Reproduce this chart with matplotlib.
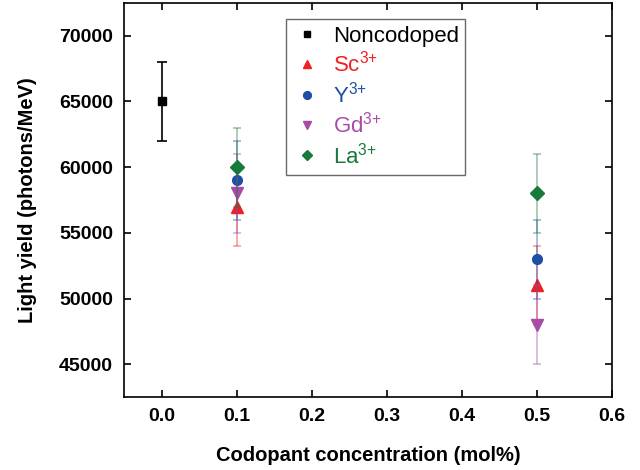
import matplotlib
matplotlib.use("Agg")
import matplotlib.pyplot as plt

plt.rcParams['font.family'] = ['Liberation Sans', 'DejaVu Sans']
plt.rcParams['mathtext.fontset'] = 'custom'
plt.rcParams['mathtext.rm'] = 'Liberation Sans'
plt.rcParams['mathtext.it'] = 'Liberation Sans'

# light yield vs codopant concentration
x_ref = [0.0]
y_ref = [65000]
err_ref = [3000]

conc = [0.1, 0.5]
sc = [57000, 51000]
y3 = [59000, 53000]
gd = [58000, 48000]
la = [60000, 58000]
err = [3000, 3000]

series = [
    ("Sc$^{3{+}}$", sc, "^", "#ee2020", 8),
    ("Y$^{3{+}}$", y3, "o", "#1f4ea6", 7),
    ("Gd$^{3{+}}$", gd, "v", "#a64ca6", 8),
    ("La$^{3{+}}$", la, "D", "#177a3a", 7),
]

fig = plt.figure(figsize=(6.4, 4.7), dpi=100)
ax = fig.add_axes([0.194, 0.155, 0.762, 0.839])

ax.errorbar(x_ref, y_ref, yerr=err_ref, fmt="none", ecolor="black",
            elinewidth=1.2, capsize=3.3, capthick=1.2)
ax.plot(x_ref, y_ref, "s", color="black", ms=6, label="Noncodoped")

for name, vals, mk, col, ms in series:
    ax.errorbar(conc, vals, yerr=err, fmt="none", ecolor=col, alpha=0.4,
                elinewidth=1.3, capsize=3, capthick=1.3)
    ax.plot(conc, vals, mk, color=col, ms=ms, linestyle="none", label=name)

ax.set_xlim(-0.05, 0.6)
ax.set_ylim(42500, 72500)
ax.set_xticks([0.0, 0.1, 0.2, 0.3, 0.4, 0.5, 0.6])
ax.set_yticks([45000, 50000, 55000, 60000, 65000, 70000])
ax.tick_params(direction="in", top=True, right=True, length=5, width=1.2,
               labelsize=14, pad=8)
for lab in ax.get_xticklabels() + ax.get_yticklabels():
    lab.set_fontweight("bold")
for sp in ax.spines.values():
    sp.set_linewidth(1.2)

ax.set_xlabel("Codopant concentration (mol%)", fontsize=14.5, fontweight="bold",
              labelpad=15)
ax.set_ylabel("Light yield (photons/MeV)", fontsize=14.5, fontweight="bold",
              labelpad=16)

leg = ax.legend(loc="upper left", bbox_to_anchor=(0.332, 0.959),
                borderaxespad=0, fontsize=16, fancybox=False,
                edgecolor="#444444", handletextpad=0.5, borderpad=0.3,
                labelspacing=0.2, handlelength=1.3, markerscale=0.8)
leg.get_frame().set_linewidth(1.0)
for txt, (_, _, _, col, _) in zip(leg.get_texts()[1:], series):
    txt.set_color(col)

fig.savefig("out.png", dpi=100)
